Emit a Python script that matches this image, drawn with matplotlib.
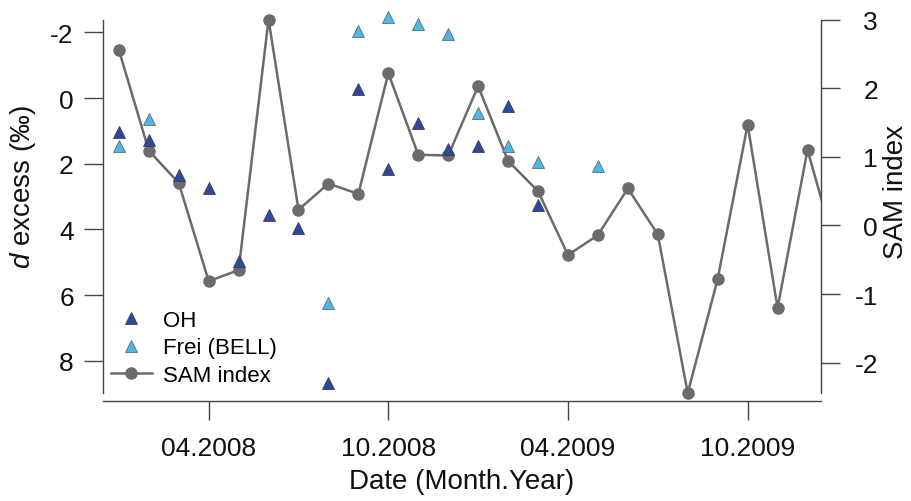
import numpy as np
import matplotlib
matplotlib.use("Agg")
import matplotlib.pyplot as plt
from matplotlib.lines import Line2D
from matplotlib.transforms import Bbox, TransformedBbox

plt.rcParams['font.family'] = ['Liberation Sans', 'DejaVu Sans']
plt.rcParams['mathtext.fontset'] = 'custom'
plt.rcParams['mathtext.rm'] = 'Liberation Sans'
plt.rcParams['mathtext.it'] = 'Liberation Sans:italic'
plt.rcParams['axes.unicode_minus'] = False

# month index: 0 = 01.2008 ... 24 = 01.2010
months = np.arange(25)
nan = np.nan

sam_index = [2.56, 1.09, 0.62, -0.81, -0.65, 3.00, 0.23, 0.61, 0.46, 2.22,
             1.03, 1.02, 2.03, 0.94, 0.50, -0.43, -0.14, 0.54, -0.13, -2.44,
             -0.78, 1.47, -1.20, 1.10, -0.44]

oh = [1.04, 1.27, 2.34, 2.75, 4.96, 3.56, 3.95, 8.66, -0.27, 2.16,
      0.75, 1.55, 1.45, 0.25, 3.25, nan, nan, nan, nan, nan,
      nan, nan, nan, nan, nan]

frei = [1.45, 0.64, nan, nan, nan, nan, nan, 6.25, -2.04, -2.46,
        -2.25, -1.96, 0.46, 1.45, 1.96, nan, 2.06, nan, nan, nan,
        nan, nan, nan, nan, nan]

tick_months = [3, 9, 15, 21]
tick_labels = ["04.2008", "10.2008", "04.2009", "10.2009"]

dark = "#444444"
fs = 19
lfs = 20

fig = plt.figure(figsize=(9.12, 5.02), dpi=100)
ax1 = fig.add_axes([0.1129, 0.2151, 0.7873, 0.7440])
ax2 = ax1.twinx()

# SAM index on the right axis
sam_line, = ax2.plot(months, sam_index, color="#6b6b6b", lw=1.8,
                     marker="o", ms=8, mec="#6b6b6b", mfc="#6b6b6b")
sam_line.set_clip_box(TransformedBbox(Bbox([[0, -0.2], [1, 1.2]]), ax2.transAxes))

# d excess on the left axis (drawn on top)
ax1.plot(months, oh, ls="none", marker="^", ms=8, mfc="#2c4a9c",
         mec="#3a3a5a", mew=0.6, clip_on=False)
ax1.plot(months, frei, ls="none", marker="^", ms=8, mfc="#4db8e6",
         mec="#5a6a78", mew=0.6, clip_on=False)
ax1.set_zorder(ax2.get_zorder() + 1)
ax1.patch.set_visible(False)

ax1.set_xlim(-0.53, 23.45)
ax1.set_ylim(8.98, -2.39)
ax2.set_ylim(-2.44, 2.995)

ax1.set_xticks(tick_months, tick_labels)
ax1.set_yticks([-2, 0, 2, 4, 6, 8])
ax2.set_yticks([-2, -1, 0, 1, 2, 3])

for s in ["top", "right"]:
    ax1.spines[s].set_visible(False)
for s in ["top", "left", "bottom"]:
    ax2.spines[s].set_visible(False)
ax1.spines["bottom"].set_position(("outward", 6))
for sp in [ax1.spines["left"], ax1.spines["bottom"], ax2.spines["right"]]:
    sp.set_color(dark)
    sp.set_linewidth(1.0)

ax1.tick_params(axis="both", length=14, width=1, color=dark, labelsize=fs,
                labelcolor="#111111")
ax1.tick_params(axis="y", pad=7)
ax1.tick_params(axis="x", pad=11)
ax2.tick_params(axis="y", length=14, width=1, color=dark, labelsize=fs,
                labelcolor="#111111", pad=27)
for lab in ax2.get_yticklabels():
    lab.set_horizontalalignment("right")

ax1.set_ylabel(r"$d$ excess (‰)", fontsize=lfs, color="#111111")
ax1.yaxis.set_label_coords(-0.090, 0.554)
ax2.set_ylabel("SAM index", fontsize=lfs, color="#111111")
ax2.yaxis.set_label_coords(1.0864, 0.54)
ax1.set_xlabel("Date (Month.Year)", fontsize=lfs, color="#111111")
ax1.xaxis.set_label_coords(0.5, -0.201)

handles = [
    Line2D([], [], ls="none", marker="^", ms=8, mfc="#2c4a9c", mec="#3a3a5a", mew=0.6),
    Line2D([], [], ls="none", marker="^", ms=8, mfc="#4db8e6", mec="#5a6a78", mew=0.6),
    Line2D([], [], color="#6b6b6b", lw=1.8, marker="o", ms=8),
]
ax1.legend(handles, ["OH", "Frei (BELL)", "SAM index"], loc="lower left",
           bbox_to_anchor=(0.011, 0.02), borderaxespad=0, borderpad=0,
           frameon=False, fontsize=16, handlelength=1.85, handletextpad=0.5,
           labelspacing=0.28, numpoints=1)

fig.savefig("out.png", dpi=100)
